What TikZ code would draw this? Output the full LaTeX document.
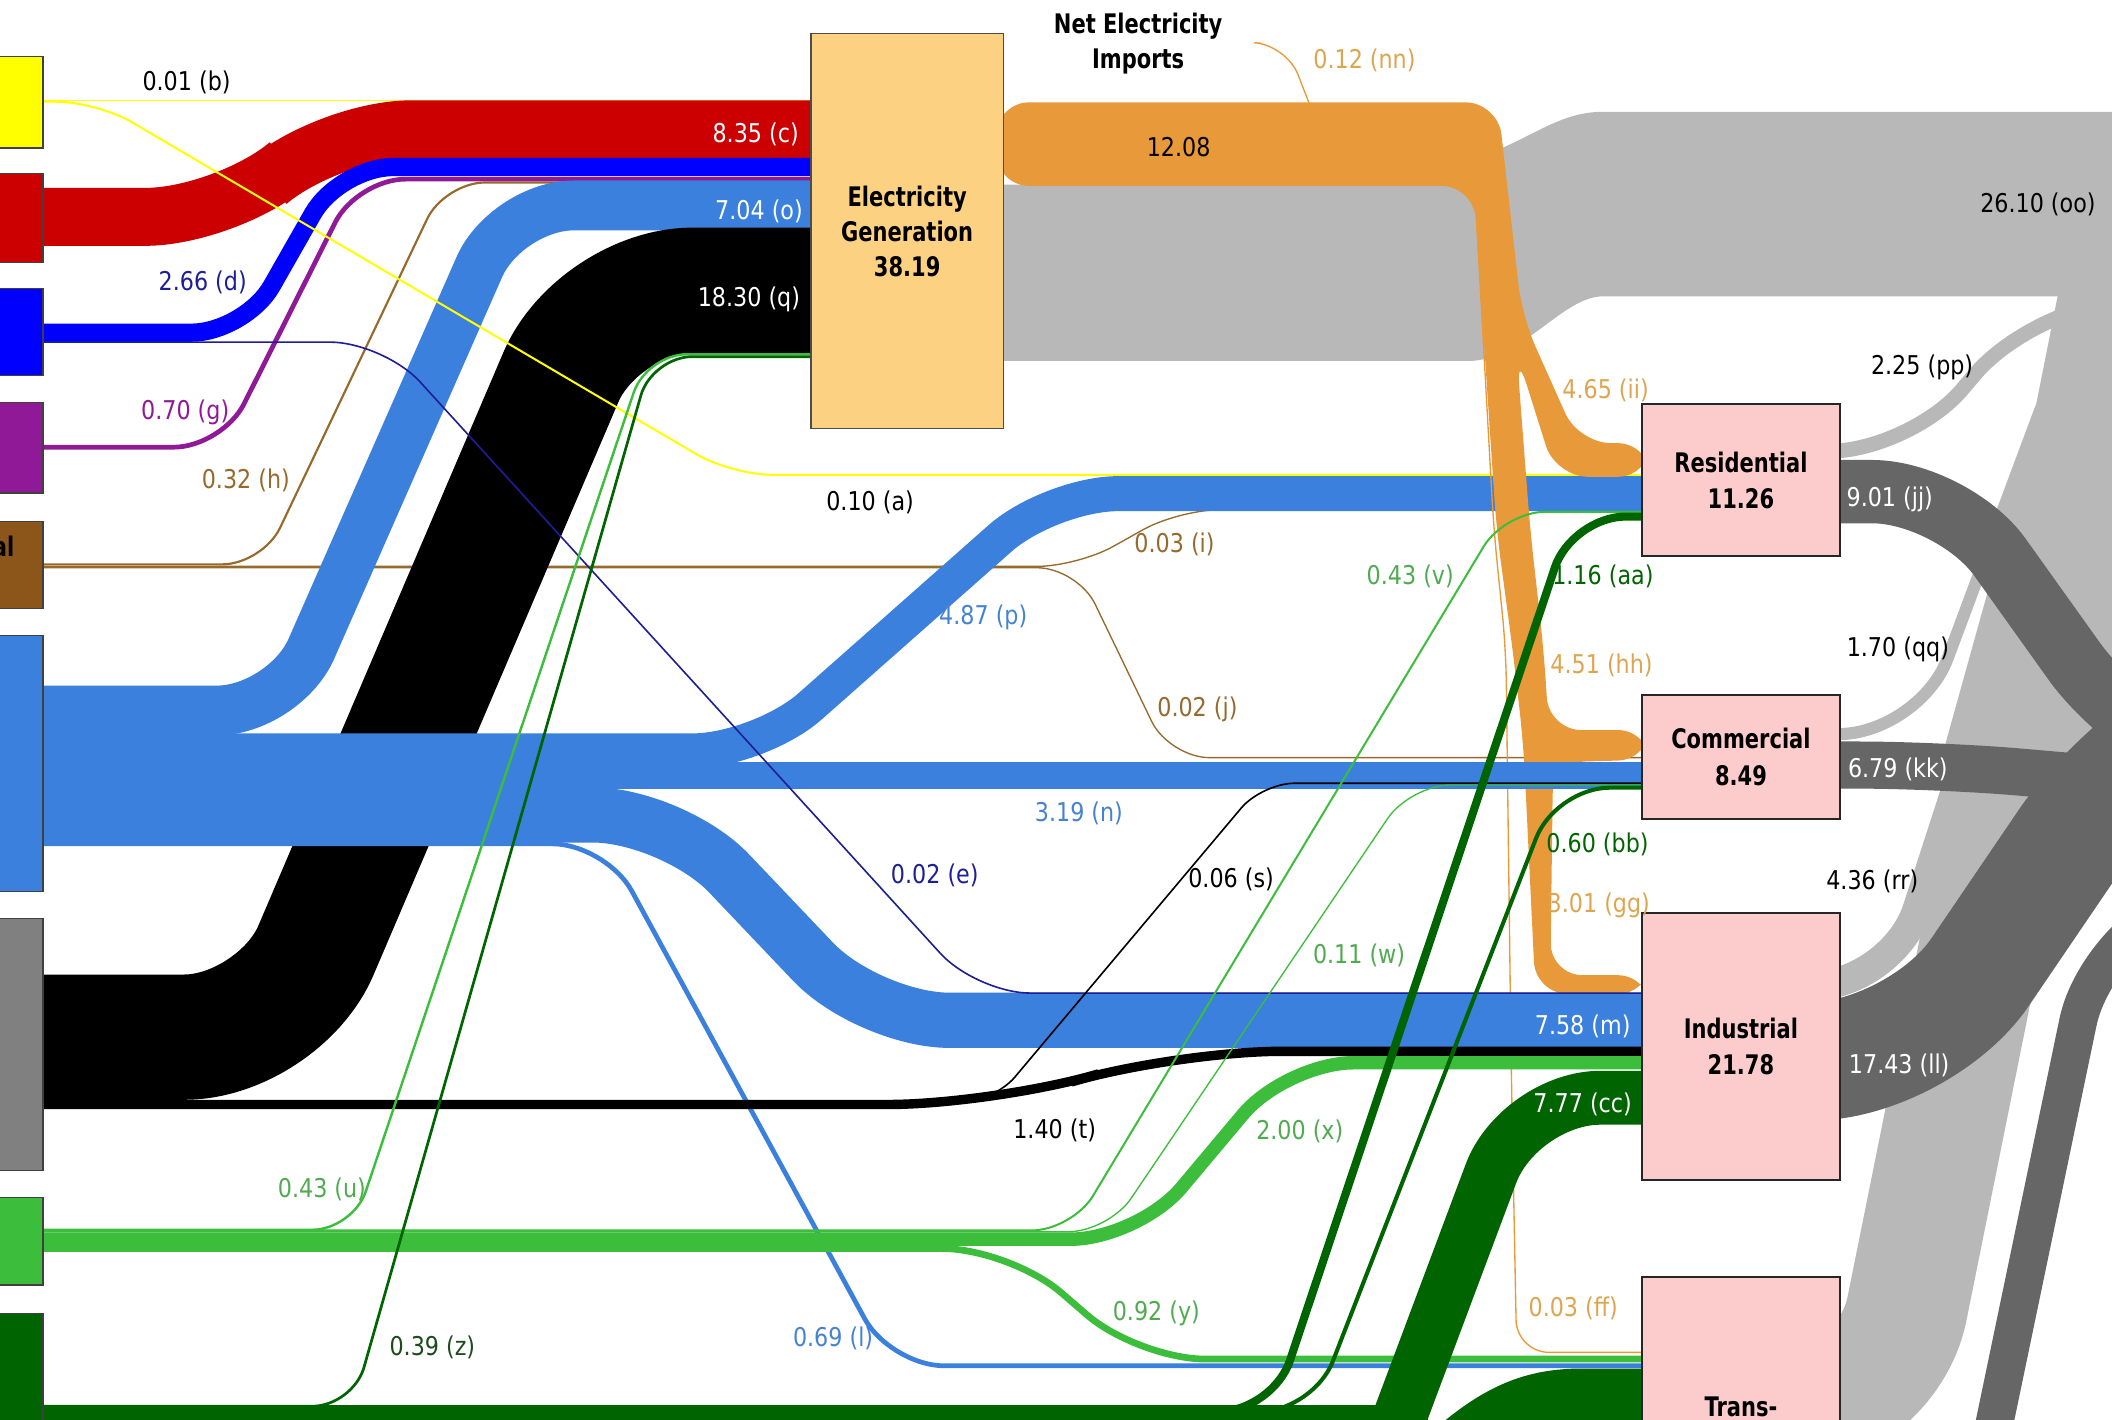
\documentclass[tikz,border=0pt]{standalone}
\usepackage{fontspec}
\setmainfont{DejaVu Sans}[FakeStretch=0.86,BoldFeatures={FakeStretch=0.78}]
\usetikzlibrary{positioning}
\definecolor{solar}{RGB}{255,255,0}
\definecolor{nuclear}{RGB}{204,0,0}
\definecolor{hydro}{RGB}{0,0,255}
\definecolor{wind}{RGB}{143,25,150}
\definecolor{geobox}{RGB}{140,85,25}
\definecolor{geoline}{RGB}{150,105,45}
\definecolor{gas}{RGB}{58,128,220}
\definecolor{gastext}{RGB}{70,130,210}
\definecolor{coalbox}{RGB}{128,128,128}
\definecolor{bio}{RGB}{60,190,60}
\definecolor{biotext}{RGB}{80,170,80}
\definecolor{petro}{RGB}{0,100,0}
\definecolor{petrotext}{RGB}{30,75,30}
\definecolor{elec}{RGB}{232,154,58}
\definecolor{electext}{RGB}{222,165,80}
\definecolor{genbox}{RGB}{252,210,130}
\definecolor{sector}{RGB}{252,204,204}
\definecolor{reject}{RGB}{184,184,184}
\definecolor{service}{RGB}{102,102,102}
\definecolor{navy}{RGB}{30,30,150}
\begin{document}
\begin{tikzpicture}[x=0.5pt,y=-0.5pt,
  flow/.style={line width=#1*0.5pt},
  src/.style={draw=black!75,line width=0.5pt,minimum width=18.5pt,inner sep=0pt},
  sect/.style={draw=black!85,line width=0.6pt,fill=sector,minimum width=73.5pt,inner sep=0pt,align=center,font=\fontsize{10}{13.5}\selectfont\bfseries},
  val/.style={inner sep=0pt,font=\fontsize{9.6}{11}\selectfont}]
\useasboundingbox (0,0) rectangle (1568,1054);

% rejected energy and energy services
\fill[reject] (740,137) -- (1110,137) -- (1110,112) .. controls (1140,100) and (1160,83) .. (1190,83) -- (1575,83) -- (1575,220) -- (1190,220) .. controls (1160,220) and (1130,268) .. (1090,268) -- (740,268) -- cycle;
\fill[reject] (1528,218) -- (1575,218) -- (1575,545) -- (1443,557) -- (1505,334) -- cycle;
\draw[reject,flow=11,rounded corners=30] (1360,335) -- (1418,335) -- (1505,232) -- (1600,222);
\draw[reject,flow=9,rounded corners=30] (1360,545) -- (1425,545) -- (1535,250) -- (1600,235);
\draw[reject,flow=22,rounded corners=30] (1360,732) -- (1405,732) -- (1545,300) -- (1600,280);
\draw[reject,flow=90,rounded corners=40] (1360,1050) -- (1400,1050) -- (1545,330) -- (1600,300);
\draw[service,flow=47,rounded corners=30] (1360,365) -- (1450,365) -- (1575,540) -- (1620,560);
\draw[service,flow=35,rounded corners=30] (1360,568) -- (1440,568) -- (1600,582);
\draw[service,flow=88,rounded corners=40] (1360,788) -- (1425,788) -- (1580,560) -- (1620,540);
\draw[service,flow=28,rounded corners=30] (1430,1300) -- (1555,700) -- (1620,670);

% sources into electricity generation
\draw[solar,flow=1.2] (30,74.5) -- (605,74.5);
\draw[nuclear,flow=43,rounded corners=30] (30,161) -- (168,161) -- (245,96) -- (605,96);
\draw[hydro,flow=13.5,rounded corners=20] (30,247) -- (182,247) -- (252,124) -- (605,124);
\draw[wind,flow=3.5,rounded corners=18] (30,332) -- (165,332) -- (265,133) -- (605,133);
\draw[geoline,flow=1.6,rounded corners=15] (30,419) -- (195,419) -- (330,135.5) -- (605,135.5);
\draw[geoline,flow=1,rounded corners=15] (30,420.5) -- (800,420.5) -- (875,378.5) -- (1222,378.5);
\draw[geoline,flow=1,rounded corners=15] (30,421.5) -- (800,421.5) -- (868,562.5) -- (1222,562.5);
\draw[gas,flow=37,rounded corners=25] (30,527.5) -- (211,527.5) -- (376,152.5) -- (605,152.5);
\draw[black,flow=93,rounded corners=35] (30,770) -- (207,770) -- (444,215.5) -- (605,215.5);
\draw[gas,flow=26,rounded corners=25] (30,557.5) -- (564,557.5) -- (780,366.5) -- (1222,366.5);
\draw[solar,flow=1.5,rounded corners=15] (30,75.5) -- (72,75.5) -- (543,352.5) -- (1222,352.5);

% electricity out
\fill[elec,rounded corners=12] (740,76) -- (1112,76) -- (1130,235) -- (1172,329) -- (1225,329) -- (1225,354) -- (1155,354) -- (1126,262) -- (1136,393) -- (1146,482) -- (1150,542) -- (1225,542) -- (1225,564) -- (1153,566) -- (1151,724) -- (1225,724) -- (1225,738) -- (1140,738) -- (1131,552) -- (1123,482) -- (1111,393) -- (1094,138) -- (740,138) -- cycle;
\draw[elec,flow=1,rounded corners=12] (1096,160) -- (1109,393) -- (1118,482) -- (1122,794) -- (1126,1004) -- (1222,1004);
\draw[elec,flow=1,rounded corners=12] (936,32) -- (955,33) -- (972,77);

% gas and coal to the sectors
\draw[gas,flow=20] (30,576) -- (1222,576);
\draw[gas,flow=41,rounded corners=30] (30,605) -- (500,605) -- (645,757.5) -- (1222,757.5);
\draw[gas,flow=3.5,rounded corners=20] (30,626.5) -- (450,626.5) -- (661,1014) -- (1222,1014);
\draw[navy,flow=1.2,rounded corners=20] (30,254) -- (285,254) -- (725,737.3) -- (1222,737.3);
\draw[black,flow=7,rounded corners=40] (30,820) -- (739,820) -- (872,780.5) -- (1222,780.5);
\draw[black,flow=1.2,rounded corners=12] (700,818.5) -- (738,818) -- (937,581.5) -- (1222,581.5);

% biomass
\draw[bio,flow=10,rounded corners=25] (30,920) -- (845,920) -- (955,789) -- (1222,789);
\draw[bio,flow=5,rounded corners=25] (30,927) -- (750,927) -- (845,1009) -- (1222,1009);
\draw[bio,flow=1.8,rounded corners=15] (30,913) -- (262,913) -- (480,263) -- (605,263);
\draw[bio,flow=1.5,rounded corners=15] (30,913.5) -- (796,913.5) -- (1117,380) -- (1222,380);
\draw[bio,flow=1,rounded corners=15] (30,914.5) -- (823,914.5) -- (1047,582.8) -- (1222,582.8);

% petroleum
\fill[petro] (30,1043) rectangle (1060,1080);
\draw[petro,flow=2,rounded corners=15] (30,1044) -- (262,1044) -- (484,264.8) -- (605,264.8);
\draw[petro,flow=6,rounded corners=20] (880,1048) -- (945,1048) -- (1167,383.5) -- (1222,383.5);
\draw[petro,flow=3,rounded corners=20] (900,1048) -- (975,1048) -- (1155,584.8) -- (1222,584.8);
\draw[petro,flow=40,rounded corners=30] (995,1170) -- (1128,815) -- (1222,815);
\fill[petro] (1045,1080) .. controls (1095,1030) and (1130,1016) .. (1175,1016) -- (1225,1016) -- (1225,1080) -- cycle;

% boxes
\node[src,fill=solar,minimum height=34pt] (solar) at (13.5,76) {};
\node[src,fill=nuclear,minimum height=33pt] (nuclear) at (13.5,162) {};
\node[src,fill=hydro,minimum height=32.5pt] (hydro) at (13.5,246.5) {};
\node[src,fill=wind,minimum height=33.5pt] (wind) at (13.5,332.5) {};
\node[src,fill=geobox,minimum height=32.5pt] (geo) at (13.5,419.5) {};
\node[src,fill=gas,minimum height=95pt] (natgas) at (13.5,567) {};
\node[src,fill=coalbox,minimum height=93.5pt] (coal) at (13.5,775.5) {};
\node[src,fill=bio,minimum height=32.5pt] (biomass) at (13.5,921.5) {};
\node[src,fill=petro,minimum height=50pt] (petroleum) at (13.5,1025) {};
\node[anchor=east,inner sep=0pt,font=\fontsize{10}{12}\selectfont\bfseries] (geo_t) at (11,406) {Geothermal};

\node[sect,fill=genbox,draw=black!70,minimum width=71.5pt,minimum height=146.5pt,font=\fontsize{10}{13}\selectfont\bfseries] (gen) at (673.5,171.5) {Electricity\\Generation\\38.19};
\node[align=center,inner sep=0pt,font=\fontsize{10}{13}\selectfont\bfseries] (imports) at (845,32) {Net Electricity\\Imports};
\node[sect,minimum height=56.5pt] (res) at (1292.5,356.5) {Residential\\11.26};
\node[sect,minimum height=46pt] (com) at (1292.5,562) {Commercial\\8.49};
\node[sect,minimum height=99pt] (ind) at (1292.5,777) {Industrial\\21.78};
\node[sect,minimum height=76pt] (trans) at (1292.5,1024) {};
\node[anchor=north,align=center,inner sep=0pt,font=\fontsize{10}{13.5}\selectfont\bfseries] (trans_t) at (1292.5,1037) {Trans-\\portation};

% flow values
\node[val] (v_b) at (138.5,61) {0.01 (b)};
\node[val,text=white] (v_c) at (561,100) {8.35 (c)};
\node[val,text=navy] (v_d) at (150.5,210) {2.66 (d)};
\node[val,text=wind] (v_g) at (137.5,306) {0.70 (g)};
\node[val,text=geoline] (v_h) at (182.5,357) {0.32 (h)};
\node[val,text=white] (v_o) at (563.5,157) {7.04 (o)};
\node[val,text=white] (v_q) at (556,222) {18.30 (q)};
\node[val] (v_elec) at (875,109) {12.08};
\node[val,text=electext] (v_nn) at (1013,45) {0.12 (nn)};
\node[val] (v_oo) at (1513,152) {26.10 (oo)};
\node[val] (v_a) at (646,373) {0.10 (a)};
\node[val,text=geoline] (v_i) at (872,404) {0.03 (i)};
\node[val,text=gastext] (v_p) at (730,458) {4.87 (p)};
\node[val,text=geoline] (v_j) at (889,527) {0.02 (j)};
\node[val,text=biotext] (v_v) at (1047,428) {0.43 (v)};
\node[val,text=electext] (v_ii) at (1192,290) {4.65 (ii)};
\node[val] (v_pp) at (1427,273) {2.25 (pp)};
\node[val,text=white] (v_jj) at (1403,371) {9.01 (jj)};
\node[val,text=petro] (v_aa) at (1190,428) {1.16 (aa)};
\node[val] (v_qq) at (1409,482) {1.70 (qq)};
\node[val,text=electext] (v_hh) at (1189,494) {4.51 (hh)};
\node[val,text=white] (v_kk) at (1409,571) {6.79 (kk)};
\node[val,text=gastext] (v_n) at (801,604) {3.19 (n)};
\node[val,text=petro] (v_bb) at (1186,627) {0.60 (bb)};
\node[val,text=navy] (v_e) at (694,650) {0.02 (e)};
\node[val] (v_s) at (914,653) {0.06 (s)};
\node[val] (v_rr) at (1390,654) {4.36 (rr)};
\node[val,text=electext] (v_gg) at (1187,672) {3.01 (gg)};
\node[val,text=biotext] (v_w) at (1009,709) {0.11 (w)};
\node[val,text=white] (v_m) at (1175,762) {7.58 (m)};
\node[val,text=white] (v_ll) at (1410,791) {17.43 (ll)};
\node[val,text=white] (v_cc) at (1175,820) {7.77 (cc)};
\node[val] (v_t) at (783,839) {1.40 (t)};
\node[val,text=biotext] (v_x) at (965,840) {2.00 (x)};
\node[val,text=biotext] (v_u) at (239,883) {0.43 (u)};
\node[val,text=biotext] (v_y) at (858.5,975) {0.92 (y)};
\node[val,text=electext] (v_ff) at (1168,971) {0.03 (ff)};
\node[val,text=gastext] (v_l) at (618.5,994) {0.69 (l)};
\node[val,text=petrotext] (v_z) at (321,1000) {0.39 (z)};
\end{tikzpicture}
\end{document}
